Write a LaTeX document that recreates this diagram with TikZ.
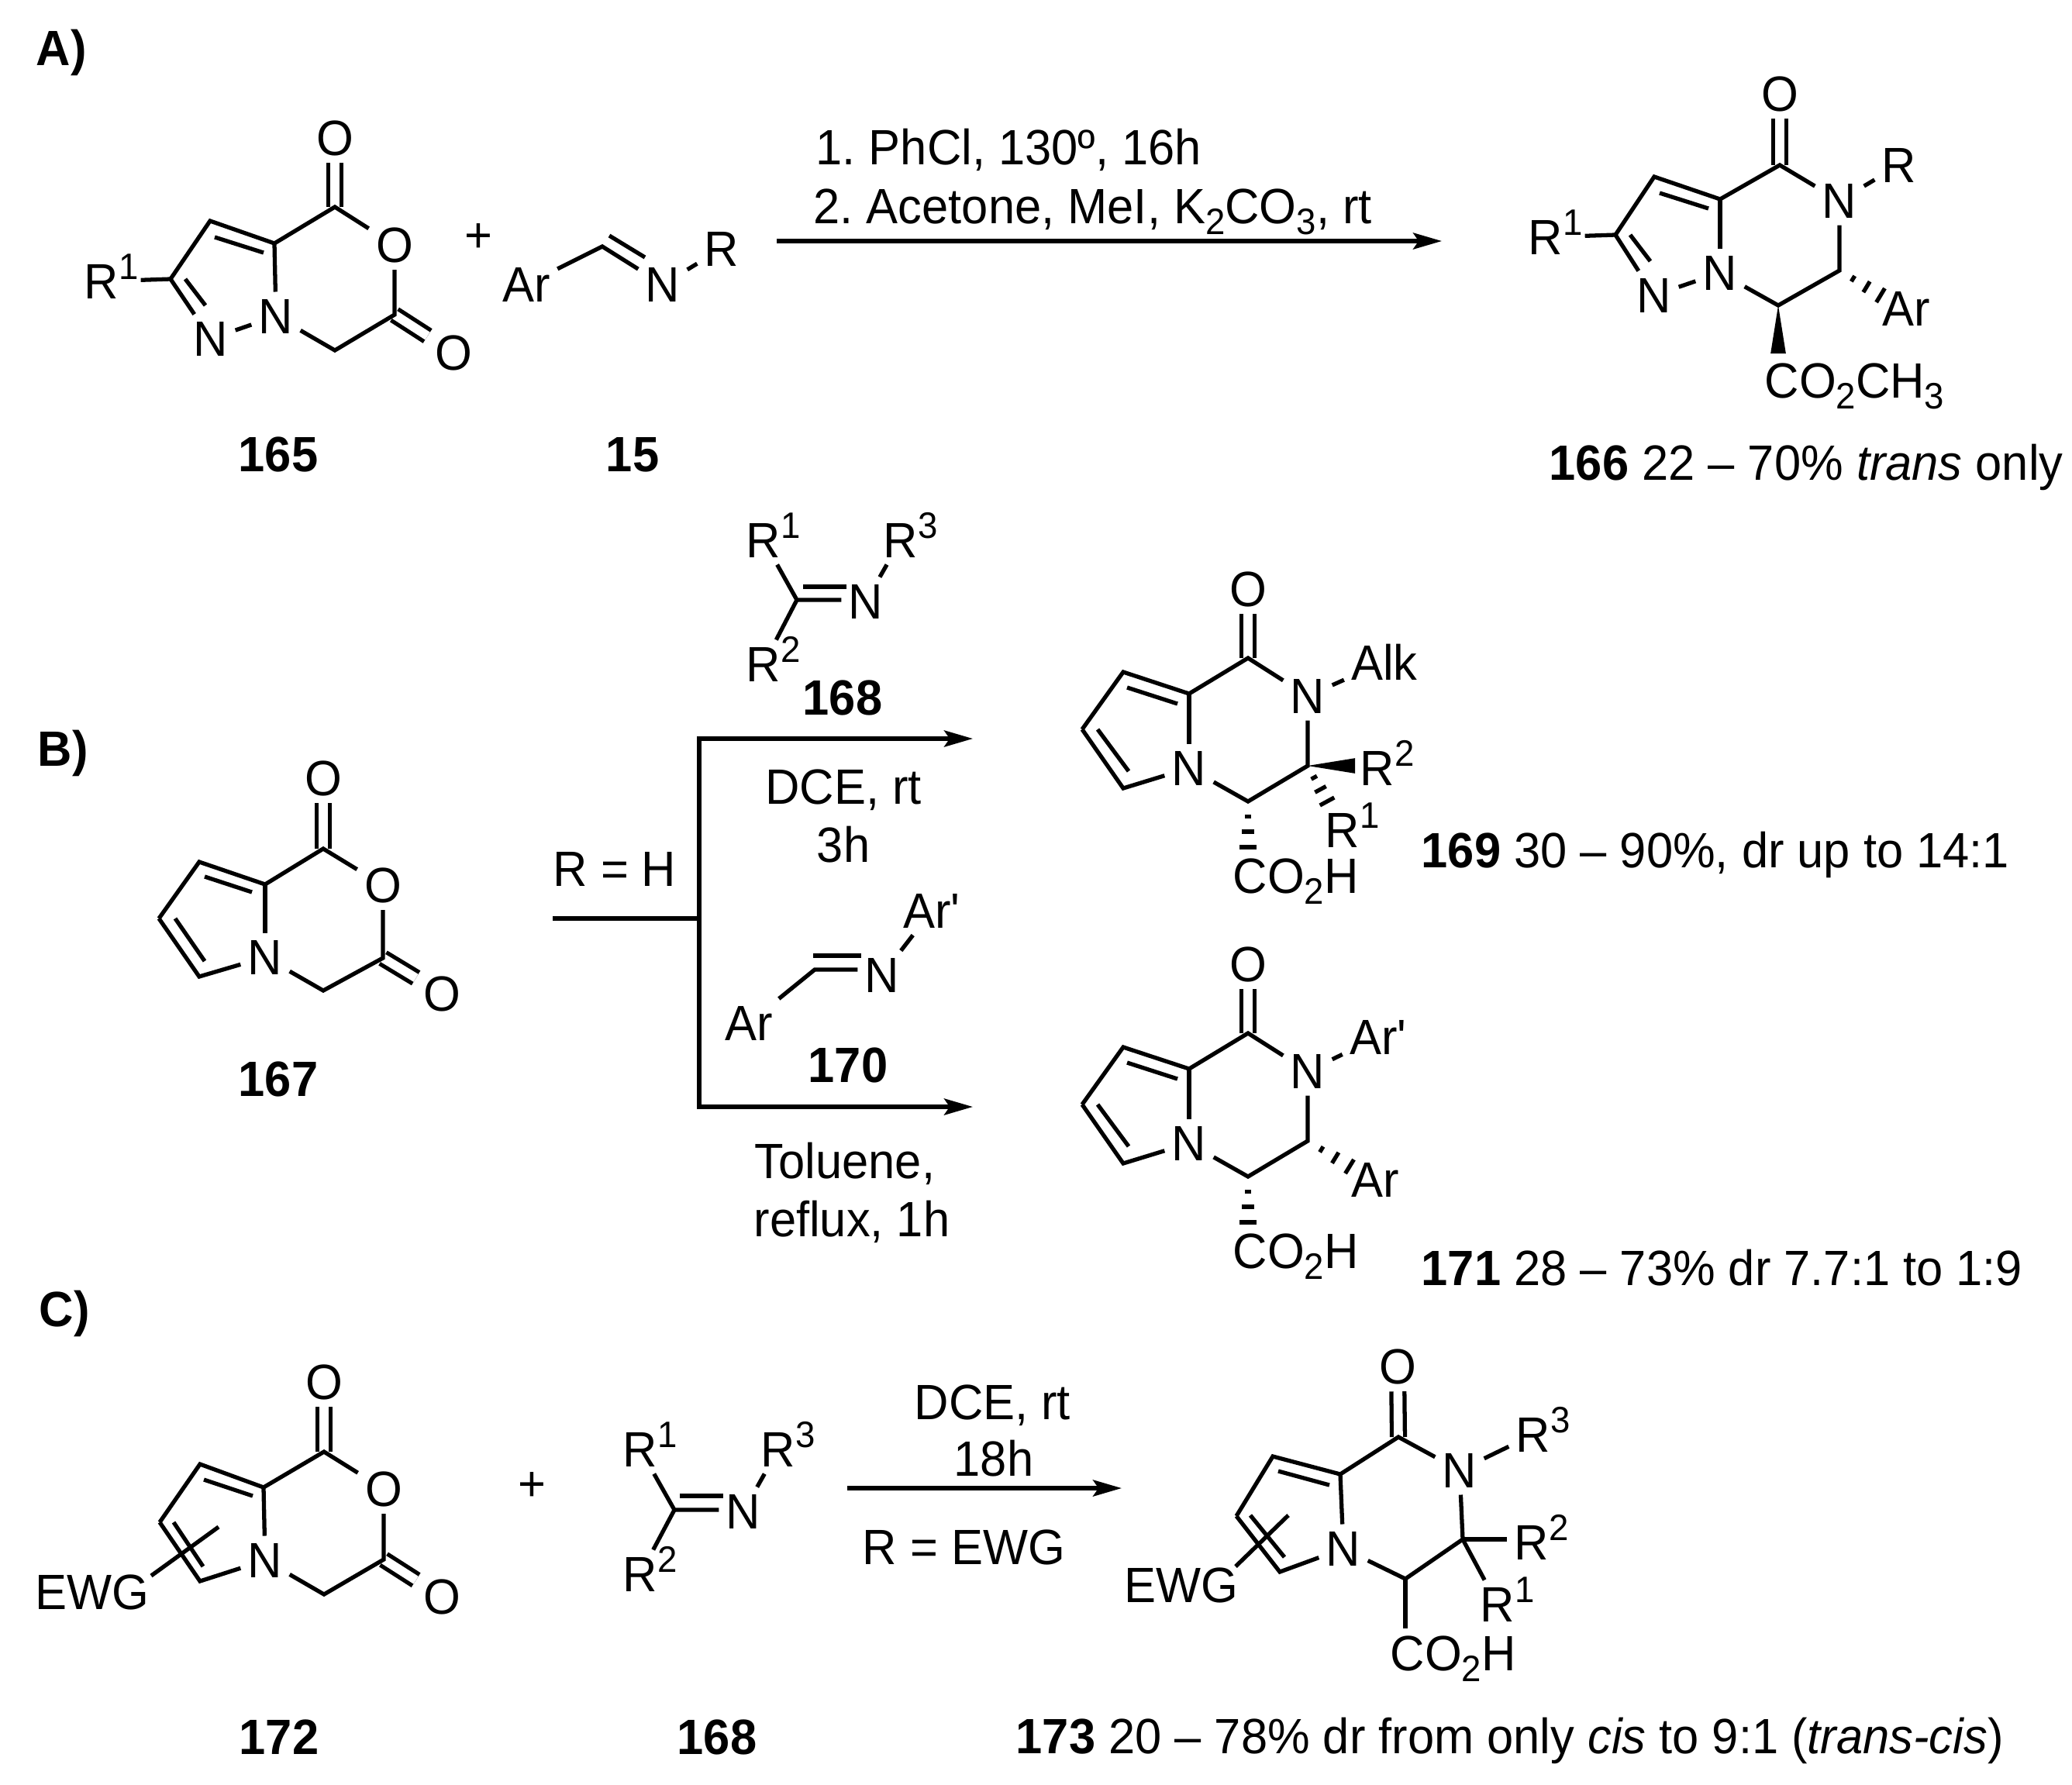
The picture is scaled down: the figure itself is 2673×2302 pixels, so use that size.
\documentclass[tikz,border=0pt]{standalone}
\usepackage{fontspec}
\setmainfont[FakeStretch=0.96]{Liberation Sans}
\usetikzlibrary{arrows.meta,calc}
\frenchspacing
\newcommand{\supnum}[1]{\rlap{\smash{\raisebox{7pt}{\fontsize{13.5}{13.5}\selectfont #1}}}}
\newcommand{\subnum}[1]{\raisebox{-4pt}{\fontsize{13.5}{13.5}\selectfont #1}}
\newcommand{\hashbond}[2]{\foreach \t/\w in {0.33/1.2,0.66/2.3,1/3}{\draw[bond] ($(#1)!\t!(#2)!\w pt!90:(#1)$) -- ($(#1)!\t!(#2)!\w pt!-90:(#1)$);}}
\newcommand{\wedgebond}[2]{\fill (#1) -- ($(#2)!2.8pt!90:(#1)$) -- ($(#2)!2.8pt!-90:(#1)$) -- cycle;}
\tikzset{every node/.style={inner sep=2.5pt,font=\fontsize{18.2}{22}\selectfont},
	bond/.style={line width=1.5pt},
	dbl/.style={double,double distance=3.3pt,line width=1.5pt},
	arr/.style={line width=1.5pt,-{Stealth[length=10.5pt,width=6pt,inset=2pt]}},
	lbl/.style={font=\fontsize{18.2}{22}\selectfont\bfseries},
	line/.style={anchor=base west,xshift=-2.5pt},
	mid/.style={anchor=base}}
\begin{document}
\begin{tikzpicture}[x=0.01cm,y=-0.01cm]
	\useasboundingbox (0,0) rectangle (2673,2302);
	% A)
	\node[lbl,line] (la) at (46,84) {A)};
	\coordinate (c1) at (220,360); \coordinate (c2) at (271,285); \coordinate (c3) at (354,314);
	\coordinate (c4) at (432,267); \coordinate (c5) at (509,406); \coordinate (c6) at (432,452);
	\node (o1) at (432,178) {O};
	\node (o2) at (509,316) {O};
	\node (o3) at (585,455) {O};
	\node (n1) at (356,408) {N};
	\node (n2) at (272,437) {N};
	\node (r1) at (131,363) {R\supnum{1}};
	\draw[dbl] (c4) -- (o1);
	\draw[dbl] (c5) -- (o3);
	\draw[bond] (c1) -- (c2) -- (c3) -- (c4) -- (o2) -- (c5) -- (c6) -- (n1) -- (n2) -- (c1);
	\draw[bond] (c3) -- (n1);
	\draw[bond,shorten >=5.4pt] (c1) -- (r1);
	\coordinate (i1) at (277,306); \coordinate (i2) at (340,326);
	\coordinate (i3) at (239,360); \coordinate (i4) at (265,394);
	\draw[bond] (i1) -- (i2);
	\draw[bond] (i3) -- (i4);
	\node[lbl,mid] (l165) at (359,608) {165};
	\node (plus1) at (617,307) {+};

	\node (ar1) at (679,367) {Ar};
	\coordinate (c7) at (777,318);
	\node (n3) at (855,367) {N};
	\node (r2) at (931,321) {R};
	\draw[bond] (ar1) -- (c7) -- (n3) -- (r2);
	\coordinate (i5) at (786,304); \coordinate (i6) at (832,332);
	\draw[bond] (i5) -- (i6);
	\node[lbl,mid] (l15) at (816,608) {15};

	\coordinate (a1s) at (1002,311); \coordinate (a1e) at (1860,311);
	\draw[arr] (a1s) -- (a1e);
	\node[line] (t1) at (1052,212) {1. PhCl, 130º, 16h};
	\node[line] (t2) at (1049,288) {2. Acetone, MeI, K\subnum{2}CO\subnum{3}, rt};

	\coordinate (d1) at (2084,303); \coordinate (d2) at (2134,228); \coordinate (d3) at (2219,257);
	\coordinate (d4) at (2296,213); \coordinate (d5) at (2373,349); \coordinate (d6) at (2294,394);
	\node (o4) at (2296,121) {O};
	\node (n4) at (2373,259) {N};
	\node (n5) at (2219,352) {N};
	\node (n6) at (2134,381) {N};
	\node (r3) at (2450,213) {R};
	\node (r4) at (1994,306) {R\supnum{1}};
	\node (ar2) at (2459,398) {Ar};
	\node[line] (co1) at (2276,513) {CO\subnum{2}CH\subnum{3}};
	\coordinate (w1) at (2294,456); \coordinate (h1) at (2426,381);
	\draw[dbl] (d4) -- (o4);
	\draw[bond] (d1) -- (d2) -- (d3) -- (d4) -- (n4) -- (d5) -- (d6) -- (n5) -- (n6) -- (d1);
	\draw[bond] (d3) -- (n5);
	\draw[bond] (n4) -- (r3);
	\draw[bond,shorten >=5.4pt] (d1) -- (r4);
	\wedgebond{d6}{w1}
	\hashbond{d5}{h1}
	\coordinate (i7) at (2141,249); \coordinate (i8) at (2204,269);
	\coordinate (i9) at (2103,303); \coordinate (i10) at (2129,337);
	\draw[bond] (i7) -- (i8);
	\draw[bond] (i9) -- (i10);
	\node[line] (l166) at (1998,619) {\textbf{166} 22 – 70\% \textit{trans} only};

	% B)
	\node[lbl,line] (lb) at (48,988) {B)};
	\coordinate (e1) at (257,1112); \coordinate (e2) at (342,1141); \coordinate (e3) at (205,1185);
	\coordinate (e4) at (257,1260); \coordinate (e5) at (417,1095); \coordinate (e6) at (494,1236);
	\coordinate (e7) at (417,1278);
	\node (o5) at (417,1004) {O};
	\node (o6) at (494,1142) {O};
	\node (o7) at (570,1282) {O};
	\node (n7) at (342,1235) {N};
	\draw[dbl] (e5) -- (o5);
	\draw[dbl] (e6) -- (o7);
	\draw[bond] (e3) -- (e1) -- (e2) -- (e5) -- (o6) -- (e6) -- (e7) -- (n7) -- (e4) -- (e3);
	\draw[bond] (e2) -- (n7);
	\coordinate (i11) at (264,1131); \coordinate (i12) at (325,1151);
	\coordinate (i13) at (226,1185); \coordinate (i14) at (264,1240);
	\draw[bond] (i11) -- (i12);
	\draw[bond] (i13) -- (i14);
	\node[lbl,mid] (l167) at (359,1414) {167};

	\coordinate (b0) at (713,1185); \coordinate (bj) at (902,1185);
	\coordinate (b1e) at (1255,953); \coordinate (b2e) at (1255,1428);
	\draw[bond] (b0) -- (bj);
	\draw[arr] (bj) |- (b1e);
	\draw[arr] (bj) |- (b2e);
	\node[mid] (t3) at (793,1143) {R = H};
	\node[mid] (t4) at (1088,1037) {DCE, rt};
	\node[mid] (t5) at (1088,1112) {3h};
	\node[mid] (t6) at (1090,1520) {Toluene,};
	\node[mid] (t7) at (1099,1595) {reflux, 1h};

	\node (r5) at (985,697) {R\supnum{1}};
	\node (r6) at (1162,697) {R\supnum{3}};
	\node (r7) at (985,857) {R\supnum{2}};
	\coordinate (f1) at (1028,774);
	\node (n8) at (1117,776) {N};
	\coordinate (i15) at (1036,757); \coordinate (i16) at (1092,757);
	\draw[bond] (r5) -- (f1) -- (n8.west |- f1);
	\draw[bond] (f1) -- (r7);
	\draw[bond] (n8) -- (r6);
	\draw[bond] (i15) -- (i16);
	\node[lbl,mid] (l168a) at (1087,922) {168};

	\node (ar3) at (966,1320) {Ar};
	\node (ar4) at (1202,1175) {Ar\textquotesingle};
	\coordinate (f2) at (1051,1251);
	\node (n9) at (1138,1258) {N};
	\coordinate (i17) at (1049,1233); \coordinate (i18) at (1111,1233);
	\draw[bond] (ar3) -- (f2) -- (n9.west |- f2);
	\draw[bond] (n9) -- (ar4);
	\draw[bond] (i17) -- (i18);
	\node[lbl,mid] (l170) at (1094,1396) {170};

	\coordinate (g1) at (1449,867); \coordinate (g2) at (1534,895); \coordinate (g3) at (1396,941);
	\coordinate (g4) at (1449,1017); \coordinate (g5) at (1610,849); \coordinate (g6) at (1687,988);
	\coordinate (g7) at (1610,1034);
	\node (o8) at (1610,760) {O};
	\node (n10) at (1687,898) {N};
	\node (n11) at (1534,991) {N};
	\node (alk) at (1786,854) {Alk};
	\node (r8) at (1777,991) {R\supnum{2}};
	\node (r9) at (1732,1071) {R\supnum{1}};
	\node[line] (co2) at (1590,1152) {CO\subnum{2}H};
	\coordinate (w2) at (1748,988); \coordinate (h2) at (1712,1034); \coordinate (h3) at (1610,1093);
	\draw[dbl] (g5) -- (o8);
	\draw[bond] (g3) -- (g1) -- (g2) -- (g5) -- (n10) -- (g6) -- (g7) -- (n11) -- (g4) -- (g3);
	\draw[bond] (g2) -- (n11);
	\draw[bond] (n10) -- (alk);
	\wedgebond{g6}{w2}
	\hashbond{g6}{h2}
	\hashbond{g7}{h3}
	\coordinate (i19) at (1454,887); \coordinate (i20) at (1519,908);
	\coordinate (i21) at (1416,941); \coordinate (i22) at (1456,995);
	\draw[bond] (i19) -- (i20);
	\draw[bond] (i21) -- (i22);
	\node[line] (l169) at (1833,1119) {\textbf{169} 30 – 90\%, dr up to 14:1};

	\coordinate (j1) at (1449,1351); \coordinate (j2) at (1534,1379); \coordinate (j3) at (1396,1425);
	\coordinate (j4) at (1449,1501); \coordinate (j5) at (1610,1333); \coordinate (j6) at (1687,1472);
	\coordinate (j7) at (1610,1518);
	\node (o9) at (1610,1244) {O};
	\node (n12) at (1687,1382) {N};
	\node (n13) at (1534,1475) {N};
	\node (ar5) at (1778,1338) {Ar\textquotesingle};
	\node (ar6) at (1774,1522) {Ar};
	\node[line] (co3) at (1590,1636) {CO\subnum{2}H};
	\coordinate (h4) at (1741,1505); \coordinate (h5) at (1610,1577);
	\draw[dbl] (j5) -- (o9);
	\draw[bond] (j3) -- (j1) -- (j2) -- (j5) -- (n12) -- (j6) -- (j7) -- (n13) -- (j4) -- (j3);
	\draw[bond] (j2) -- (n13);
	\draw[bond] (n12) -- (ar5);
	\hashbond{j6}{h4}
	\hashbond{j7}{h5}
	\coordinate (i23) at (1454,1371); \coordinate (i24) at (1519,1392);
	\coordinate (i25) at (1416,1425); \coordinate (i26) at (1456,1479);
	\draw[bond] (i23) -- (i24);
	\draw[bond] (i25) -- (i26);
	\node[line] (l171) at (1833,1658) {\textbf{171} 28 – 73\% dr 7.7:1 to 1:9};

	% C)
	\node[lbl,line] (lc) at (50,1711) {C)};
	\coordinate (k1) at (258,1889); \coordinate (k2) at (340,1919); \coordinate (k3) at (206,1964);
	\coordinate (k4) at (258,2040); \coordinate (k5) at (418,1873); \coordinate (k6) at (495,2012);
	\coordinate (k7) at (418,2057);
	\node (o10) at (418,1783) {O};
	\node (o11) at (495,1921) {O};
	\node (o12) at (570,2060) {O};
	\node (n14) at (342,2013) {N};
	\node[line] (ewg1) at (45,2076) {EWG};
	\coordinate (x0) at (195,2033); \coordinate (x1) at (282,1970);
	\draw[dbl] (k5) -- (o10);
	\draw[dbl] (k6) -- (o12);
	\draw[bond] (k3) -- (k1) -- (k2) -- (k5) -- (o11) -- (k6) -- (k7) -- (n14) -- (k4) -- (k3);
	\draw[bond] (k2) -- (n14);
	\draw[bond] (x0) -- (x1);
	\coordinate (i27) at (263,1909); \coordinate (i28) at (326,1930);
	\coordinate (i29) at (224,1964); \coordinate (i30) at (262,2021);
	\draw[bond] (i27) -- (i28);
	\draw[bond] (i29) -- (i30);
	\node[lbl,mid] (l172) at (360,2263) {172};
	\node (plus2) at (686,1918) {+};

	\node (r10) at (826,1870) {R\supnum{1}};
	\node (r11) at (1004,1870) {R\supnum{3}};
	\node (r12) at (826,2031) {R\supnum{2}};
	\coordinate (f3) at (870,1948);
	\node (n15) at (959,1950) {N};
	\coordinate (i31) at (877,1930); \coordinate (i32) at (933,1930);
	\draw[bond] (r10) -- (f3) -- (n15.west |- f3);
	\draw[bond] (f3) -- (r12);
	\draw[bond] (n15) -- (r11);
	\draw[bond] (i31) -- (i32);
	\node[lbl,mid] (l168b) at (925,2263) {168};

	\coordinate (a3s) at (1093,1920); \coordinate (a3e) at (1447,1920);
	\draw[arr] (a3s) -- (a3e);
	\node[line] (t8) at (1179,1831) {DCE, rt};
	\node[mid] (t9) at (1282,1904) {18h};
	\node[line] (t10) at (1112,2018) {R = EWG};

	\coordinate (m1) at (1642,1879); \coordinate (m2) at (1729,1902); \coordinate (m3) at (1595,1956);
	\coordinate (m4) at (1651,2028); \coordinate (m5) at (1804,1854); \coordinate (m6) at (1887,1986);
	\coordinate (m7) at (1813,2037);
	\node (o13) at (1803,1763) {O};
	\node (n16) at (1883,1897) {N};
	\node (n17) at (1733,1998) {N};
	\node (r13) at (1978,1851) {R\supnum{3}};
	\node (r14) at (1976,1990) {R\supnum{2}};
	\node (r15) at (1932,2070) {R\supnum{1}};
	\node[line] (co4) at (1793,2155) {CO\subnum{2}H};
	\node[line] (ewg2) at (1450,2067) {EWG};
	\coordinate (x3) at (1594,2021); \coordinate (x2) at (1662,1955);
	\draw[dbl] (m5) -- (o13);
	\draw[bond] (m3) -- (m1) -- (m2) -- (m5) -- (n16) -- (m6) -- (m7) -- (n17) -- (m4) -- (m3);
	\draw[bond] (m2) -- (n17);
	\draw[bond] (n16) -- (r13);
	\draw[bond] (m6) -- (r14.west |- m6);
	\draw[bond] (m6) -- (r15);
	\draw[bond] (m7) -- (co4.north -| m7);
	\draw[bond] (x3) -- (x2);
	\coordinate (i33) at (1649,1898); \coordinate (i34) at (1715,1916);
	\coordinate (i35) at (1613,1955); \coordinate (i36) at (1657,2009);
	\draw[bond] (i33) -- (i34);
	\draw[bond] (i35) -- (i36);
	\node[line] (l173) at (1310,2262) {\textbf{173} 20 – 78\% dr from only \textit{cis} to 9:1 (\textit{trans-cis})};
\end{tikzpicture}
\end{document}
